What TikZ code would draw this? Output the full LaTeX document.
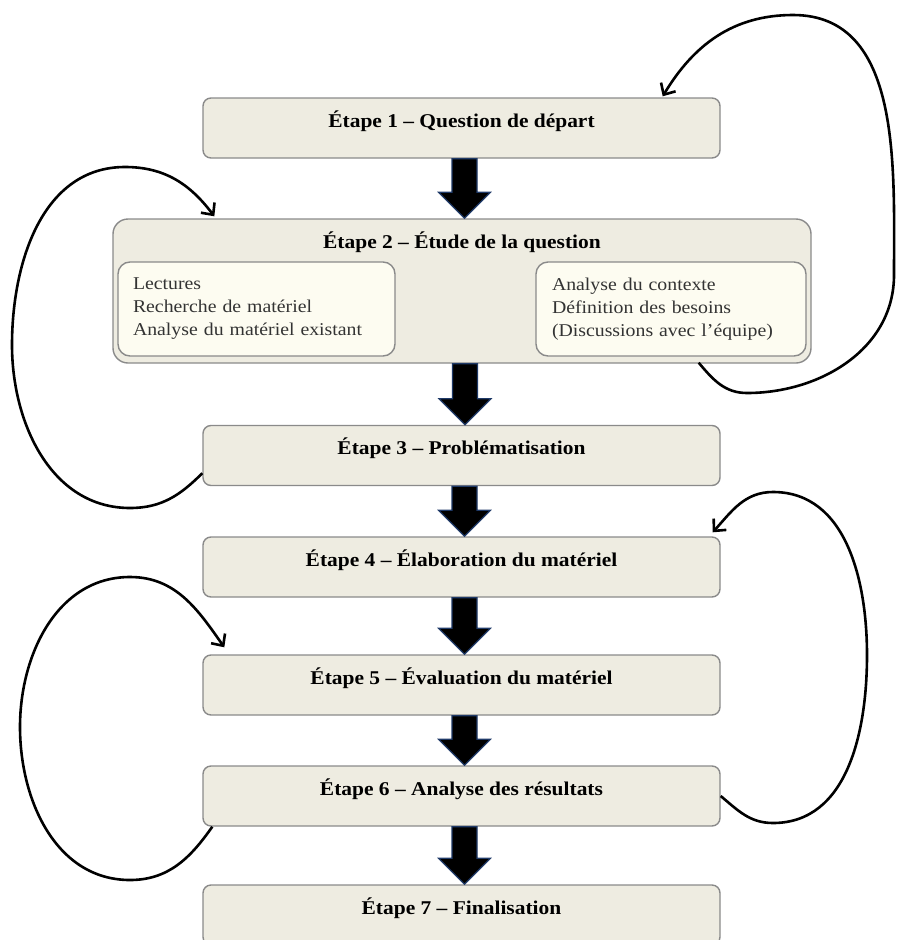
\documentclass[tikz,border=0pt]{standalone}
\usepackage{fontspec}
\setmainfont{Liberation Serif}[FakeStretch=1.1]
\usetikzlibrary{arrows.meta,calc}
\definecolor{boxfill}{HTML}{EEECE1}
\definecolor{boxline}{HTML}{8A8A8A}
\definecolor{innerfill}{HTML}{FDFCF1}
\definecolor{arrowline}{HTML}{1F3A68}
\definecolor{bodytext}{HTML}{333333}
\newcommand\blockarrow[2]{%
  \path[fill=black, draw=arrowline, line width=1.2pt]
    let \p1=(#1.south), \p2=(#2.north) in
    (\x1-9.5pt,\y1) -- (\x1+15.5pt,\y1) -- (\x1+15.5pt,\y2+26pt) -- (\x1+29pt,\y2+26pt)
    -- (\x1+3pt,\y2) -- (\x1-23pt,\y2+26pt) -- (\x1-9.5pt,\y2+26pt) -- cycle;}
\begin{document}
\begin{tikzpicture}[x=1pt,y=1pt,
  stepbox/.style={draw=boxline, fill=boxfill, line width=1.4pt, rounded corners=8pt,
    minimum width=517pt, minimum height=60pt, inner sep=0pt,
    font=\fontsize{19.5}{22}\selectfont\bfseries, text=black,
    text height=13pt, text depth=15pt},
  innerbox/.style={draw=boxline, fill=innerfill, line width=1.4pt, rounded corners=12pt,
    minimum height=94pt, inner ysep=0pt, align=left,
    font=\fontsize{18}{23}\selectfont, text=bodytext},
  loopline/.style={line width=2.6pt, -{Straight Barb[length=9pt,width=17pt]}}
]
\useasboundingbox (0,0) rectangle (897,-940);
\clip (0,0) rectangle (897,-940);

\node[stepbox] (b1) at (461.5,-128) {Étape 1 – Question de départ};
\node[stepbox, minimum width=698pt, minimum height=144pt, rounded corners=15pt,
      text depth=99pt] (b2) at (462,-291) {Étape 2 – Étude de la question};
\node[innerbox, inner xsep=15pt, text width=247pt] (b2l) at (256.5,-309)
  {Lectures\\Recherche de matériel\\Analyse du matériel existant};
\node[innerbox, inner xsep=16pt, text width=238pt] (b2r) at (671,-309)
  {Analyse du contexte\\Définition des besoins\\(Discussions avec l’équipe)};
\node[stepbox] (b3) at (461.5,-455.5) {Étape 3 – Problématisation};
\node[stepbox] (b4) at (461.5,-567) {Étape 4 – Élaboration du matériel};
\node[stepbox] (b5) at (461.5,-685) {Étape 5 – Évaluation du matériel};
\node[stepbox] (b6) at (461.5,-796) {Étape 6 – Analyse des résultats};
\node[stepbox] (b7) at (461.5,-915) {Étape 7 – Finalisation};

\blockarrow{b1}{b2}
\blockarrow{b2}{b3}
\blockarrow{b3}{b4}
\blockarrow{b4}{b5}
\blockarrow{b5}{b6}
\blockarrow{b6}{b7}

% loop from step 3 back to step 2 (left)
\draw[loopline] ($(b3.south west)+(0,13)$) to[out=225,in=0] (130,-508)
  to[out=180,in=-90] (12,-345) to[out=90,in=180] (125,-167)
  to[out=0,in=127] ($(b2.north west)+(102,2)$);
% loop from step 2 back to step 1 (right)
\draw[loopline] ($(b2.south east)+(-113,1)$) to[out=-50,in=180] (747,-393)
  to[out=0,in=-90] (894,-275) to[out=90,in=0] (793,-15)
  to[out=180,in=59] ($(b1.north east)+(-58,1)$);
% loop from step 6 back to step 4 (right)
\draw[loopline] (b6.east) to[out=-40,in=180] (773,-823)
  to[out=0,in=-90] (867,-655) to[out=90,in=0] (773,-492)
  to[out=180,in=48] ($(b4.north east)+(-8,4)$);
% loop from step 6 back to step 5 (left)
\draw[loopline] ($(b6.south west)+(10,0)$) to[out=-125,in=0] (130,-880)
  to[out=180,in=-90] (20,-727) to[out=90,in=180] (130,-577)
  to[out=0,in=125] ($(b5.north west)+(22,7)$);
\end{tikzpicture}
\end{document}
